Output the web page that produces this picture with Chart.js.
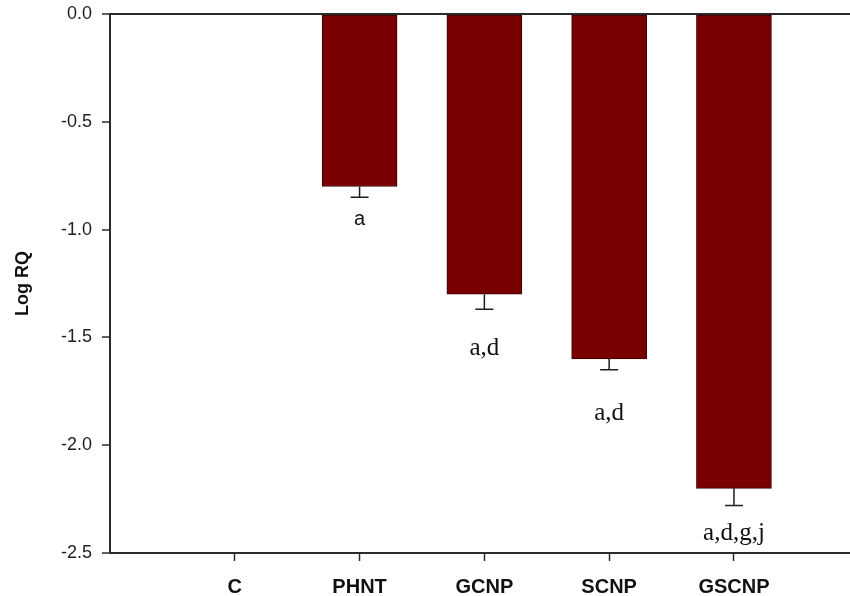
<!DOCTYPE html>
<html>
<head>
<meta charset="utf-8">
<script src="https://cdn.jsdelivr.net/npm/chart.js@4/dist/chart.umd.min.js"></script>
<style>
  html, body { margin: 0; padding: 0; background: #ffffff; }
  #wrap { width: 850px; height: 596px; }
</style>
</head>
<body>
<div id="wrap"><canvas id="chart" width="850" height="596"></canvas></div>
<script>
// Groups along the x axis
const categories = ['C', 'PHNT', 'GCNP', 'SCNP', 'GSCNP'];
// Mean Log RQ per group
const logRQ = [0, -0.8, -1.3, -1.6, -2.2];
// Standard error (drawn downward only)
const stdErr = [0, 0.05, 0.07, 0.05, 0.08];
// Significance letters under each bar, and the value they sit at
const sigLetters = ['', 'a', 'a,d', 'a,d', 'a,d,g,j'];
const sigAt = [null, -0.98, -1.58, -1.885, -2.44];
// Y axis ticks
const yTicks = [0, -0.5, -1.0, -1.5, -2.0, -2.5];

const AXIS = '#2b2b2b';
const SANS = "'Liberation Sans', Arial, sans-serif";
const SERIF = "'Liberation Serif', 'Times New Roman', serif";
// The PHNT letter is set in sans, the rest in serif
const LETTER_FONTS = ['25px ' + SERIF, '20px ' + SANS, '25px ' + SERIF, '25px ' + SERIF, '25px ' + SERIF];

// Down-only error bars plus letter annotations
const errorAndLetters = {
  id: 'errorAndLetters',
  afterDatasetsDraw(chart) {
    const { ctx } = chart;
    const xs = chart.scales.x, ys = chart.scales.y;
    ctx.save();
    ctx.strokeStyle = '#1e1e1e';
    ctx.lineWidth = 1.5;
    const capHalf = 9;
    categories.forEach((c, i) => {
      const x = xs.getPixelForValue(i + 1);
      if (stdErr[i]) {
        const y0 = ys.getPixelForValue(logRQ[i]);
        const y1 = ys.getPixelForValue(logRQ[i] - stdErr[i]);
        ctx.beginPath();
        ctx.moveTo(x, y0);
        ctx.lineTo(x, y1);
        ctx.moveTo(x - capHalf, y1);
        ctx.lineTo(x + capHalf, y1);
        ctx.stroke();
      }
      if (sigLetters[i] && sigAt[i] !== null) {
        ctx.fillStyle = '#111111';
        ctx.font = LETTER_FONTS[i];
        ctx.textAlign = 'center';
        ctx.textBaseline = 'alphabetic';
        ctx.fillText(sigLetters[i], x, ys.getPixelForValue(sigAt[i]));
      }
    });
    ctx.restore();
  }
};

new Chart(document.getElementById('chart'), {
  type: 'bar',
  data: {
    datasets: [{
      data: categories.map((c, i) => ({ x: i + 1, y: logRQ[i] })),
      backgroundColor: '#780000',
      borderColor: '#3a0000',
      borderWidth: 1,
      borderSkipped: false,
      barThickness: 75
    }]
  },
  options: {
    responsive: false,
    animation: false,
    devicePixelRatio: 1,
    layout: { padding: { top: 14, left: 0, right: 0, bottom: 0 } },
    plugins: {
      legend: { display: false },
      tooltip: { enabled: false }
    },
    scales: {
      x: {
        type: 'linear',
        offset: false,
        min: 0,
        max: 5.93,
        afterFit(scale) {
          scale.height = 43;
          scale.paddingLeft = 0;
          scale.paddingRight = 0;
        },
        ticks: {
          stepSize: 1,
          includeBounds: false,
          maxRotation: 0,
          autoSkip: false,
          padding: 14,
          color: '#111111',
          font: { family: SANS, size: 20, weight: 'bold' },
          callback: v => categories[v - 1] || ''
        },
        grid: {
          offset: false,
          drawOnChartArea: false,
          drawTicks: true,
          tickLength: 8,
          tickWidth: 1.5,
          tickColor: c => (c.tick && c.tick.value === 0) ? 'rgba(0,0,0,0)' : AXIS
        },
        border: { display: true, color: AXIS, width: 2 }
      },
      y: {
        min: -2.5,
        max: 0,
        afterFit(scale) {
          scale.width = 110;
          scale.paddingTop = 0;
          scale.paddingBottom = 0;
        },
        afterBuildTicks(scale) { scale.ticks = yTicks.map(v => ({ value: v })); },
        ticks: {
          padding: 10,
          color: '#222222',
          font: { family: SANS, size: 18 },
          callback: v => Number(v).toFixed(1)
        },
        grid: {
          drawOnChartArea: true,
          drawTicks: true,
          tickLength: 8,
          tickWidth: 1.5,
          tickColor: AXIS,
          lineWidth: 2,
          color: c => (c.tick && c.tick.value === 0) ? AXIS : 'rgba(0,0,0,0)'
        },
        border: { display: true, color: AXIS, width: 2 },
        title: {
          display: true,
          text: 'Log RQ',
          color: '#111111',
          font: { family: SANS, size: 18, weight: 'bold' },
          padding: { top: 12, bottom: 0 }
        }
      }
    }
  },
  plugins: [errorAndLetters]
});
</script>
</body>
</html>
